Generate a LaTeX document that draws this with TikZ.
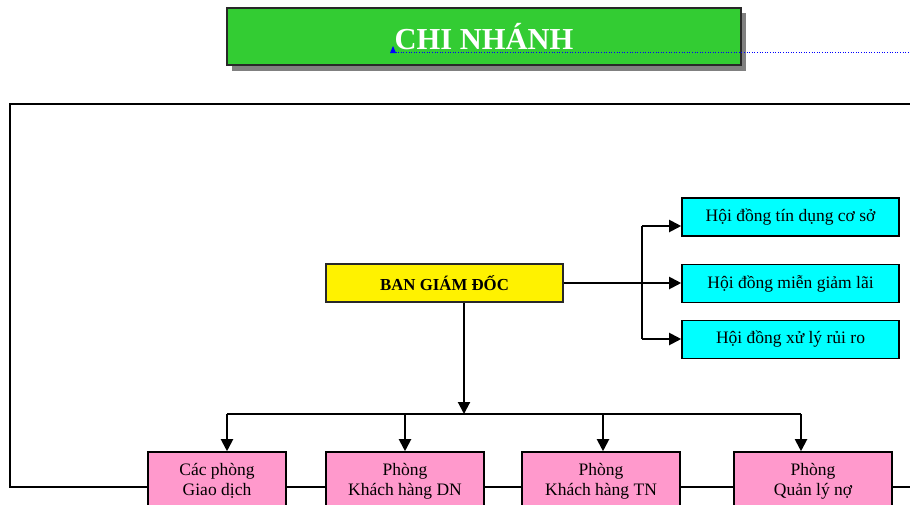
\documentclass[tikz,border=0pt]{standalone}
\usepackage{fontspec}
\setmainfont{Liberation Serif}
\usetikzlibrary{arrows.meta}
\definecolor{titlegreen}{RGB}{51,204,51}
\definecolor{pinkbox}{RGB}{255,153,204}
\definecolor{cyanbox}{RGB}{0,255,255}
\definecolor{shadowgray}{RGB}{128,128,128}
\definecolor{darkborder}{RGB}{40,40,40}
\begin{document}
\begin{tikzpicture}[x=1pt,y=-1pt,
  conn/.style={line width=2pt,draw=black},
  arr/.style={conn,-{Triangle[length=12pt,width=12pt]}},
  basebox/.style={rectangle,inner sep=0pt,font=\fontsize{17.5}{20}\selectfont,align=center},
  titlebox/.style={basebox,draw=darkborder,line width=2.5pt,fill=titlegreen,minimum width=514pt,minimum height=57pt,text=white,font=\fontsize{30.5}{36}\selectfont\bfseries},
  banbox/.style={basebox,draw=darkborder,line width=2pt,fill=yellow,minimum width=237pt,minimum height=38pt,font=\fontsize{16.8}{20}\selectfont\bfseries},
  hdbox/.style={basebox,draw=black,line width=1.6pt,fill=cyanbox,minimum width=217pt,minimum height=38pt},
  phbox/.style={basebox,draw=black,line width=1.6pt,fill=pinkbox,minimum height=58pt}
]
\useasboundingbox (0,0) rectangle (910,504);
\clip (0,0) rectangle (910,504);

% outer frame
\draw[conn] (912,104) -- (10,104) -- (10,487) -- (912,487);

% title with shadow
\fill[shadowgray] (232,13) rectangle (746,71);
\node[titlebox] (t) at (484,36.5) {CHI NHÁNH};
\coordinate (cur) at (393,52);
\coordinate (curend) at (912,52);
\draw[blue,dotted,line width=0.6pt] (cur) -- (curend);
\fill[blue] ([shift={(-3,1)}]cur) -- ([shift={(0,-6)}]cur) -- ([shift={(3,1)}]cur) -- cycle;

% boxes
\node[banbox] (ban) at (444.5,283) {BAN GIÁM ĐỐC};
\node[hdbox] (h1) at (790.5,217) {Hội đồng tín dụng cơ sở};
\node[hdbox] (h2) at (790.5,283.5) {Hội đồng miễn giảm lãi};
\node[hdbox] (h3) at (790.5,339.5) {Hội đồng xử lý rủi ro};

\node[phbox,minimum width=138pt] (p1) at (217,481) {Các phòng\\Giao dịch};
\node[phbox,minimum width=158pt] (p2) at (405,481) {Phòng\\Khách hàng DN};
\node[phbox,minimum width=158pt] (p3) at (601,481) {Phòng\\Khách hàng TN};
\node[phbox,minimum width=158pt] (p4) at (813,481) {Phòng\\Quản lý nợ};

% right connectors
\coordinate (jt) at (642,226);
\coordinate (jb) at (642,339);
\draw[arr] (ban.east) -- (ban.east -| h2.west);
\draw[conn] (jt) -- (jb);
\draw[arr] (jt) -- (jt -| h1.west);
\draw[arr] (jb) -- (jb -| h3.west);

% down connectors
\coordinate (bus) at (464,414);
\coordinate (b1) at (227,414);
\coordinate (b2) at (405,414);
\coordinate (b3) at (603,414);
\coordinate (b4) at (801,414);
\draw[arr] (bus |- ban.south) -- (bus);
\draw[conn] (b1) -- (b4);
\draw[arr] (b1) -- (b1 |- p1.north);
\draw[arr] (b2) -- (b2 |- p2.north);
\draw[arr] (b3) -- (b3 |- p3.north);
\draw[arr] (b4) -- (b4 |- p4.north);
\end{tikzpicture}
\end{document}
